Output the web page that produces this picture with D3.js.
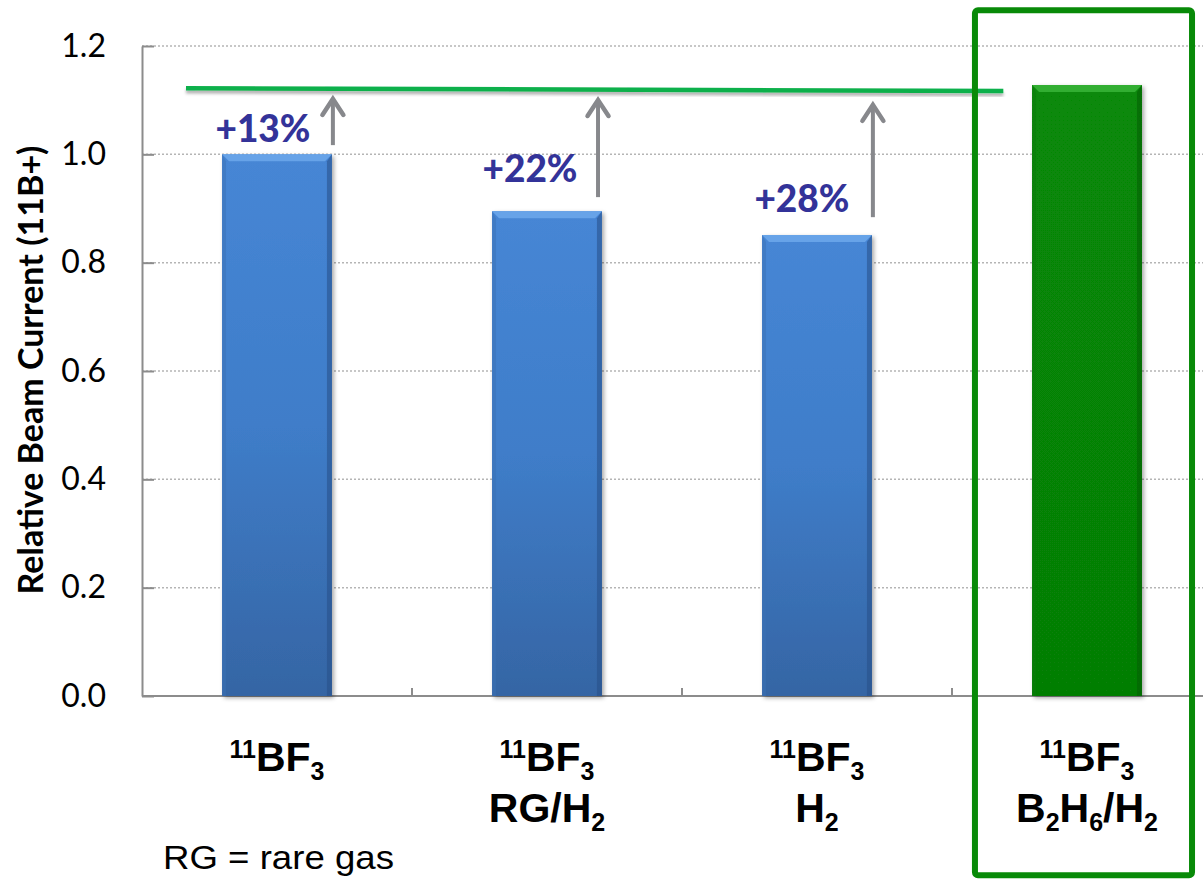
<!DOCTYPE html>
<html><head><meta charset="utf-8">
<script src="https://cdn.jsdelivr.net/npm/d3@7"></script>
<style>body{margin:0;background:#fff} svg{display:block}</style>
</head><body><svg id="c" width="1203" height="879"></svg>
<script>
// ---------- data ----------
const categories = ["11BF3", "11BF3 RG/H2", "11BF3 H2", "11BF3 B2H6/H2"];
const values = [1.0, 0.895, 0.851, 1.128];
const barKinds = ["blue", "blue", "blue", "green"];
const yTicks = [0, 0.2, 0.4, 0.6, 0.8, 1.0, 1.2];
const yTitle = "Relative Beam Current (11B+)";
// label segments: [text, kind] kind: "" normal, "sup", "sub"
const labelLine1 = [[["11","sup"],["BF",""],["3","sub"]],
                    [["11","sup"],["BF",""],["3","sub"]],
                    [["11","sup"],["BF",""],["3","sub"]],
                    [["11","sup"],["BF",""],["3","sub"]]];
const labelLine2 = [[],
                    [["RG/H",""],["2","sub"]],
                    [["H",""],["2","sub"]],
                    [["B",""],["2","sub"],["H",""],["6","sub"],["/H",""],["2","sub"]]];
const gainLabels = ["+13%", "+22%", "+28%"];
const gainLabelPos = [0.448, 1.437, 2.444];   // category units
const gainLabelVal = [1.023, 0.949, 0.893];
const arrowPos = [0.707, 1.689, 2.707];
const arrowFrom = [1.017, 0.921, 0.884];
const arrowTo = [1.106, 1.104, 1.095];
const refLineX = [0.163, 3.19];
const refLineY = [1.122, 1.117];
const boxX = [3.085, 3.889];
const boxY = [1.266, -0.331];
const footnote = "RG = rare gas";

// ---------- layout ----------
const svg = d3.select("#c");
const L = 142, R = 1222, T = 46, B = 696;
const x = d3.scaleBand().domain(categories).range([L, R]).padding(0);
const xc = d3.scaleLinear().domain([0, categories.length]).range([L, R]);
const y = d3.scaleLinear().domain([0, 1.2]).range([B, T]);

const defs = svg.append("defs");
function grad(id, stops) {
  const g = defs.append("linearGradient").attr("id", id).attr("x1",0).attr("y1",0).attr("x2",0).attr("y2",1);
  stops.forEach(s => g.append("stop").attr("offset", s[0]).attr("stop-color", s[1]));
}
grad("gBlue", [[0,"#4686d5"],[0.5,"#3f7dc9"],[1,"#3565a4"]]);
grad("gGreen", [[0,"#078907"],[1,"#067e06"]]);
const sh = defs.append("filter").attr("id","sh").attr("x","-20%").attr("y","-20%").attr("width","140%").attr("height","140%");
sh.append("feDropShadow").attr("dx",2).attr("dy",2).attr("stdDeviation",2).attr("flood-color","#000").attr("flood-opacity",0.35);
const lsh = defs.append("filter").attr("id","lsh").attr("x","-5%").attr("y","-200%").attr("width","110%").attr("height","500%");
lsh.append("feDropShadow").attr("dx",0).attr("dy",3).attr("stdDeviation",1.5).attr("flood-color","#000").attr("flood-opacity",0.3);

// gridlines
svg.append("g").selectAll("line").data(yTicks.filter(d => d > 0)).join("line")
  .attr("x1", L).attr("x2", R).attr("y1", d => y(d)).attr("y2", d => y(d))
  .attr("stroke", "#b5b5b5").attr("stroke-width", 1.5).attr("stroke-dasharray", "2,2");

// y axis
const yAxis = d3.axisLeft(y).tickValues(yTicks).tickFormat(d3.format(".1f")).tickSizeInner(-12).tickSizeOuter(0).tickPadding(36);
const ga = svg.append("g").attr("transform", `translate(${L},0)`).call(yAxis);
ga.select(".domain").attr("stroke", "#8c8c8c").attr("stroke-width", 2);
ga.selectAll(".tick line").attr("stroke", "#8c8c8c").attr("stroke-width", 2);
ga.selectAll(".tick text").attr("font-family", "Lato, sans-serif").attr("font-size", 32).attr("fill", "#000");

// x axis line and ticks
svg.append("line").attr("x1", L).attr("x2", R).attr("y1", y(0)).attr("y2", y(0))
  .attr("stroke", "#8c8c8c").attr("stroke-width", 2);
svg.append("g").selectAll("line").data(categories.slice(1)).join("line")
  .attr("x1", d => x(d)).attr("x2", d => x(d)).attr("y1", y(0)).attr("y2", y(0) - 8)
  .attr("stroke", "#8c8c8c").attr("stroke-width", 2);

// bars
const bw = x.bandwidth() * 0.407;
const bars = svg.append("g").selectAll("g").data(categories).join("g");
bars.each(function(c, i) {
  const g = d3.select(this);
  const x0 = x(c) + (x.bandwidth() - bw) / 2, x1 = x0 + bw;
  const y0 = y(values[i]), yb = y(0);
  const green = barKinds[i] === "green";
  g.append("rect").attr("x", x0).attr("y", y0).attr("width", bw).attr("height", yb - y0)
    .attr("fill", green ? "url(#gGreen)" : "url(#gBlue)").attr("filter", "url(#sh)");
  const e = 7;
  g.append("polygon").attr("points", [[x0,y0],[x1,y0],[x1-e,y0+e],[x0+e,y0+e]].join(" "))
    .attr("fill", green ? "#36b236" : "#6aa6ea").attr("opacity", 0.9);
  g.append("polygon").attr("points", [[x1,y0],[x1,yb],[x1-5,yb],[x1-5,y0+e]].join(" "))
    .attr("fill", green ? "#035c03" : "#274f86").attr("opacity", 0.55);
  g.append("polygon").attr("points", [[x0,y0],[x0+4,y0+e],[x0+4,yb],[x0,yb]].join(" "))
    .attr("fill", green ? "#0a7a0a" : "#3a70b4").attr("opacity", 0.5);
});

// reference green line
svg.append("line")
  .attr("x1", xc(refLineX[0])).attr("x2", xc(refLineX[1]))
  .attr("y1", y(refLineY[0])).attr("y2", y(refLineY[1]))
  .attr("stroke", "#0db04b").attr("stroke-width", 4.5).attr("filter", "url(#lsh)");

// arrows
const arr = svg.append("g").selectAll("g").data(arrowPos).join("g");
arr.each(function(p, i) {
  const g = d3.select(this);
  const ax = xc(p), yb = y(arrowFrom[i]), yt = y(arrowTo[i]);
  g.append("line").attr("x1", ax).attr("x2", ax).attr("y1", yb).attr("y2", yt + 2)
    .attr("stroke", "#87888c").attr("stroke-width", 4);
  g.append("polyline").attr("points", [[ax - 10.5, yt + 18], [ax, yt + 2], [ax + 10.5, yt + 18]].join(" "))
    .attr("fill", "none").attr("stroke", "#87888c").attr("stroke-width", 4.5)
    .attr("stroke-linecap", "round").attr("stroke-linejoin", "miter");
});

// gain labels
svg.append("g").selectAll("text").data(gainLabels).join("text")
  .attr("x", (d, i) => xc(gainLabelPos[i])).attr("y", (d, i) => y(gainLabelVal[i]))
  .attr("text-anchor", "middle").attr("font-family", "Lato, sans-serif").attr("font-weight", 900)
  .attr("font-size", 37).attr("fill", "#333399").text(d => d);

// green box
svg.append("rect")
  .attr("x", xc(boxX[0])).attr("y", y(boxY[0]))
  .attr("width", xc(boxX[1]) - xc(boxX[0])).attr("height", y(boxY[1]) - y(boxY[0]))
  .attr("rx", 3).attr("fill", "none").attr("stroke", "#088a08").attr("stroke-width", 6);

// category labels
function richText(sel, segs) {
  let shift = 0;
  segs.forEach(([t, k]) => {
    const target = k === "sup" ? -13 : k === "sub" ? 9 : 0;
    sel.append("tspan").attr("dy", target - shift).attr("font-size", k ? 25 : 41).text(t);
    shift = target;
  });
}
const cl = svg.append("g").attr("font-family", "'Liberation Sans', Arial, sans-serif").attr("font-weight", 700)
  .attr("fill", "#000").attr("text-anchor", "middle");
categories.forEach((c, i) => {
  const cx = x(c) + x.bandwidth() / 2;
  richText(cl.append("text").attr("x", cx).attr("y", y(0) + 75), labelLine1[i]);
  if (labelLine2[i].length) richText(cl.append("text").attr("x", cx).attr("y", y(0) + 126), labelLine2[i]);
});

// y title
svg.append("text").attr("transform", `translate(43,${(143 + 597) / 2}) rotate(-90)`)
  .attr("text-anchor", "middle").attr("font-family", "Lato, sans-serif").attr("font-weight", 700)
  .attr("font-size", 34).attr("fill", "#000").text(yTitle);

// footnote
svg.append("text").attr("x", 163).attr("y", 869).attr("font-family", "'Liberation Sans', Arial, sans-serif")
  .attr("font-size", 33).attr("fill", "#000").attr("textLength", 231).attr("lengthAdjust", "spacingAndGlyphs").text(footnote);
</script></body></html>
